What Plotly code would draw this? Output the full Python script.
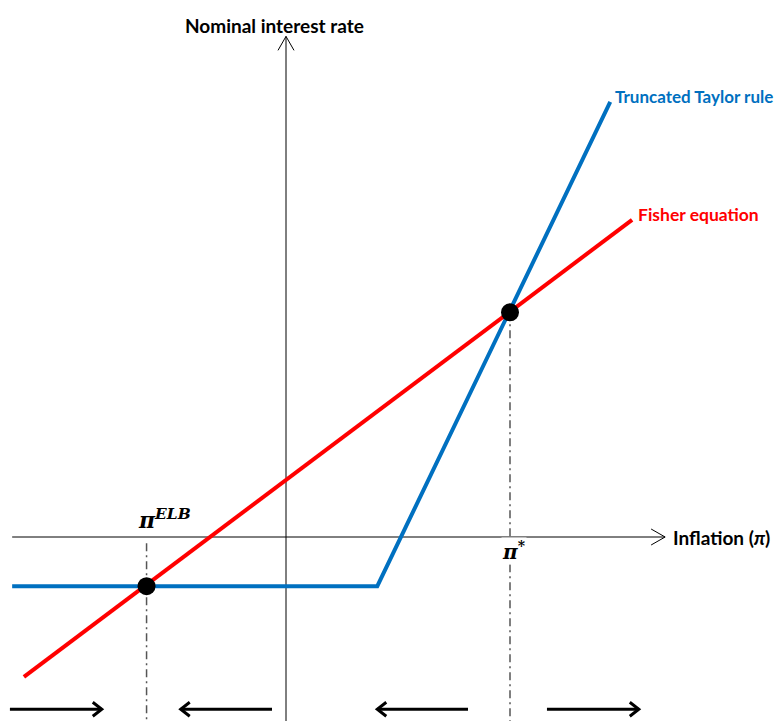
import plotly.graph_objects as go

# ---------------- data (model units) ----------------
ELB = -1.17            # effective lower bound on the nominal rate
pi_elb = -2.49         # deflationary steady state
pi_star = 4.0          # target steady state
i_star = 5.35

taylor_x = [-4.89, 1.63, 5.79]
taylor_y = [-1.17, -1.17, 10.36]
fisher_x = [-4.68, 6.18]
fisher_y = [-3.33, 7.55]
eq_x = [pi_elb, pi_star]
eq_y = [ELB, i_star]

# dynamics arrows along the bottom: (start, end)
arrow_level = -4.10
dyn_arrows = [(-4.93, -3.29), (-0.25, -1.88), (3.25, 1.63), (4.66, 6.30)]

h_axis = (-4.89, 6.77)
v_axis = (-4.40, 11.92)

# ---------------- layout helpers ----------------
W, H = 776, 713              # page body has an 8px margin
SX, SY = 56.0, 42.0          # pixels per unit
X0, Y0 = 278.0, 529.0        # pixel position of the origin inside the figure
xr = [-X0 / SX, (W - X0) / SX]
yr = [-(H - Y0) / SY, Y0 / SY]

BLUE = "#0070C0"
RED = "#FF0000"

fig = go.Figure()


def chevron(tip_x, tip_y, dx, dy, L, Wd):
    """open arrow head; (dx,dy) direction in pixel space (y up)"""
    px, py = -dy, dx
    ax = tip_x + (-L * dx + Wd * px) / SX
    ay = tip_y + (-L * dy + Wd * py) / SY
    bx = tip_x + (-L * dx - Wd * px) / SX
    by = tip_y + (-L * dy - Wd * py) / SY
    return [ax, tip_x, bx], [ay, tip_y, by]


def line(x, y, color, width, dash="solid"):
    fig.add_trace(go.Scatter(x=x, y=y, mode="lines",
                             line=dict(color=color, width=width, dash=dash),
                             hoverinfo="skip", showlegend=False))


# axes
line([h_axis[0], h_axis[1]], [0, 0], "black", 1)
cx, cy = chevron(h_axis[1], 0, 1, 0, 14, 8)
line(cx, cy, "black", 1)
line([0, 0], [yr[0], v_axis[1]], "black", 1)
cx, cy = chevron(0, v_axis[1], 0, 1, 14, 8)
line(cx, cy, "black", 1)

# dash-dot guides
line([pi_elb, pi_elb], [-0.15, yr[0]], "#555555", 1.5, "8px,4px,2px,4px")
line([pi_star, pi_star], [i_star, yr[0]], "#555555", 1.5, "8px,4px,2px,4px")

# curves
line(taylor_x, taylor_y, BLUE, 4)
line(fisher_x, fisher_y, RED, 4)

# equilibria
fig.add_trace(go.Scatter(x=eq_x, y=eq_y, mode="markers",
                         marker=dict(color="black", size=18),
                         hoverinfo="skip", showlegend=False))

# dynamics arrows
for s, e in dyn_arrows:
    line([s, e], [arrow_level, arrow_level], "black", 3)
    d = 1 if e > s else -1
    cx, cy = chevron(e, arrow_level, d, 0, 9, 7)
    line(cx, cy, "black", 3)

FONT = "Lato"
ann = [
    dict(x=-0.2, y=yr[1] - 17 / SY, text="<b>Nominal interest rate</b>",
         font=dict(size=19, color="black", family=FONT), xanchor="center", yanchor="middle"),
    dict(x=taylor_x[-1] + 3 / SX, y=taylor_y[-1] + 5 / SY, text="<b>Truncated Taylor rule</b>",
         font=dict(size=17, color=BLUE, family=FONT), xanchor="left", yanchor="middle"),
    dict(x=fisher_x[-1] + 4 / SX, y=fisher_y[-1] + 5 / SY, text="<b>Fisher equation</b>",
         font=dict(size=17.5, color=RED, family=FONT), xanchor="left", yanchor="middle"),
    dict(x=h_axis[1] + 6 / SX, y=0, text="<b>Inflation (</b><b><i>π</i></b><b>)</b>",
         font=dict(size=19, color="black", family=FONT), xanchor="left", yanchor="middle"),
    dict(x=pi_elb + 18 / SX, y=18 / SY, text="<b><i>π</i></b><sup><b><i>ELB</i></b></sup>",
         font=dict(size=22, color="black", family="DejaVu Serif"), xanchor="center", yanchor="middle"),
    dict(x=pi_star + 4 / SX, y=-14 / SY, text="<b><i>π</i></b><sup><b>*</b></sup>",
         font=dict(size=20, color="black", family="DejaVu Serif"), xanchor="center", yanchor="middle",
         bgcolor="white", borderpad=0),
]
for a in ann:
    a.update(xref="x", yref="y", showarrow=False)

fig.update_layout(
    width=W, height=H, margin=dict(l=0, r=0, t=0, b=0),
    paper_bgcolor="white", plot_bgcolor="white",
    xaxis=dict(range=xr, visible=False, fixedrange=True),
    yaxis=dict(range=yr, visible=False, fixedrange=True),
    annotations=ann, showlegend=False,
)

fig.write_html("out.html")
